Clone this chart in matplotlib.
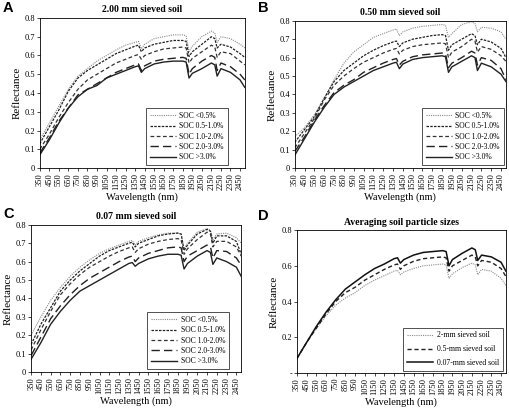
import matplotlib
matplotlib.use("Agg")
import matplotlib.pyplot as plt

plt.rcParams['font.family'] = ['Liberation Serif', 'DejaVu Serif']

# wavelength nodes (nm)
wl = [350, 450, 550, 650, 750, 850, 950, 1050, 1150, 1250, 1350, 1385, 1415, 1450,
      1550, 1650, 1750, 1850, 1885, 1915, 1950, 2050, 2150, 2185, 2210, 2250, 2350,
      2450, 2500]

soc_labels = ["SOC <0.5%", "SOC 0.5-1.0%", "SOC 1.0-2.0%", "SOC 2.0-3.0%", "SOC >3.0%"]
size_labels = ["2-mm sieved soil", "0.5-mm sieved soil", "0.07-mm sieved soil"]

# A: 2.00 mm
a1 = [0.15, 0.24, 0.33, 0.42, 0.49, 0.53, 0.57, 0.60, 0.63, 0.655, 0.67, 0.675, 0.635, 0.66, 0.69, 0.70, 0.71, 0.71, 0.705, 0.62, 0.65, 0.70, 0.73, 0.72, 0.67, 0.70, 0.69, 0.66, 0.64]
a2 = [0.13, 0.22, 0.31, 0.41, 0.48, 0.52, 0.55, 0.58, 0.61, 0.63, 0.65, 0.655, 0.62, 0.64, 0.66, 0.67, 0.68, 0.68, 0.675, 0.595, 0.62, 0.66, 0.70, 0.69, 0.64, 0.66, 0.645, 0.61, 0.59]
a3 = [0.10, 0.18, 0.27, 0.35, 0.42, 0.47, 0.50, 0.53, 0.56, 0.58, 0.60, 0.605, 0.58, 0.60, 0.62, 0.635, 0.64, 0.645, 0.64, 0.56, 0.585, 0.62, 0.655, 0.645, 0.59, 0.62, 0.61, 0.57, 0.55]
a4 = [0.08, 0.16, 0.25, 0.32, 0.39, 0.42, 0.45, 0.48, 0.51, 0.53, 0.55, 0.555, 0.52, 0.545, 0.57, 0.58, 0.585, 0.59, 0.585, 0.50, 0.53, 0.57, 0.60, 0.59, 0.52, 0.56, 0.54, 0.50, 0.47]
a5 = [0.07, 0.15, 0.24, 0.32, 0.38, 0.42, 0.44, 0.48, 0.50, 0.52, 0.54, 0.545, 0.51, 0.53, 0.555, 0.565, 0.57, 0.57, 0.565, 0.48, 0.505, 0.53, 0.56, 0.55, 0.49, 0.53, 0.51, 0.47, 0.43]

# B: 0.50 mm
b1 = [0.17, 0.22, 0.29, 0.38, 0.48, 0.57, 0.63, 0.67, 0.71, 0.73, 0.75, 0.755, 0.72, 0.74, 0.76, 0.77, 0.775, 0.78, 0.775, 0.71, 0.73, 0.78, 0.795, 0.785, 0.74, 0.765, 0.76, 0.74, 0.70]
b2 = [0.14, 0.21, 0.28, 0.38, 0.47, 0.53, 0.57, 0.61, 0.64, 0.665, 0.685, 0.69, 0.66, 0.68, 0.70, 0.71, 0.72, 0.725, 0.72, 0.64, 0.67, 0.70, 0.73, 0.72, 0.67, 0.70, 0.685, 0.65, 0.60]
b3 = [0.11, 0.19, 0.27, 0.37, 0.45, 0.50, 0.54, 0.575, 0.60, 0.625, 0.645, 0.65, 0.62, 0.64, 0.66, 0.67, 0.675, 0.68, 0.675, 0.60, 0.63, 0.66, 0.70, 0.69, 0.63, 0.66, 0.645, 0.61, 0.58]
b4 = [0.09, 0.17, 0.26, 0.34, 0.41, 0.45, 0.48, 0.52, 0.545, 0.57, 0.59, 0.595, 0.56, 0.58, 0.605, 0.615, 0.62, 0.625, 0.62, 0.545, 0.57, 0.60, 0.635, 0.625, 0.56, 0.60, 0.585, 0.54, 0.48]
b5 = [0.07, 0.16, 0.25, 0.33, 0.40, 0.44, 0.47, 0.50, 0.53, 0.55, 0.57, 0.575, 0.54, 0.565, 0.59, 0.60, 0.605, 0.61, 0.605, 0.52, 0.55, 0.58, 0.61, 0.60, 0.53, 0.57, 0.55, 0.51, 0.47]

# C: 0.07 mm
c1 = [0.20, 0.30, 0.39, 0.46, 0.52, 0.57, 0.61, 0.645, 0.67, 0.69, 0.71, 0.715, 0.69, 0.71, 0.73, 0.745, 0.755, 0.755, 0.75, 0.67, 0.70, 0.76, 0.78, 0.77, 0.72, 0.75, 0.755, 0.73, 0.70]
c2 = [0.15, 0.26, 0.35, 0.44, 0.50, 0.55, 0.59, 0.63, 0.66, 0.68, 0.70, 0.705, 0.68, 0.70, 0.72, 0.74, 0.75, 0.755, 0.75, 0.66, 0.69, 0.75, 0.775, 0.765, 0.70, 0.74, 0.74, 0.71, 0.64]
c3 = [0.12, 0.23, 0.33, 0.42, 0.48, 0.53, 0.57, 0.60, 0.63, 0.655, 0.675, 0.68, 0.65, 0.67, 0.695, 0.71, 0.72, 0.725, 0.72, 0.64, 0.67, 0.72, 0.76, 0.75, 0.68, 0.71, 0.71, 0.68, 0.63]
c4 = [0.09, 0.19, 0.29, 0.36, 0.42, 0.47, 0.51, 0.54, 0.57, 0.60, 0.625, 0.63, 0.60, 0.62, 0.645, 0.66, 0.675, 0.68, 0.675, 0.60, 0.63, 0.66, 0.69, 0.68, 0.62, 0.66, 0.655, 0.62, 0.58]
c5 = [0.07, 0.16, 0.26, 0.33, 0.39, 0.44, 0.47, 0.50, 0.53, 0.56, 0.59, 0.595, 0.575, 0.59, 0.615, 0.63, 0.64, 0.64, 0.635, 0.56, 0.59, 0.63, 0.66, 0.65, 0.585, 0.62, 0.60, 0.57, 0.52]

# D: averages
d1 = [0.08, 0.17, 0.25, 0.32, 0.38, 0.42, 0.45, 0.49, 0.52, 0.545, 0.57, 0.575, 0.55, 0.565, 0.585, 0.60, 0.605, 0.61, 0.605, 0.53, 0.555, 0.59, 0.615, 0.605, 0.55, 0.58, 0.57, 0.53, 0.49]
d2 = [0.08, 0.17, 0.25, 0.33, 0.40, 0.45, 0.48, 0.52, 0.55, 0.58, 0.605, 0.61, 0.58, 0.60, 0.625, 0.64, 0.645, 0.65, 0.645, 0.57, 0.60, 0.63, 0.66, 0.65, 0.60, 0.63, 0.62, 0.585, 0.54]
d3 = [0.08, 0.17, 0.26, 0.34, 0.41, 0.47, 0.51, 0.55, 0.585, 0.61, 0.64, 0.645, 0.615, 0.635, 0.66, 0.675, 0.68, 0.685, 0.68, 0.60, 0.635, 0.67, 0.70, 0.69, 0.63, 0.66, 0.65, 0.62, 0.57]

xticks = list(range(350, 2451, 100))

soc_styles = [
    dict(ls=(0, (1, 1)), color='#8a8a8a', lw=0.8),
    dict(ls=(0, (2, 1)), color='#222222', lw=0.9),
    dict(ls=(0, (3, 2)), color='#333333', lw=0.9),
    dict(ls=(0, (6, 3)), color='#222222', lw=1.0),
    dict(ls='-', color='#222222', lw=1.0),
]
size_styles = [
    dict(ls=(0, (1, 1)), color='#8a8a8a', lw=0.8),
    dict(ls=(0, (3, 2)), color='#222222', lw=1.0),
    dict(ls='-', color='#111111', lw=1.1),
]

fig = plt.figure(figsize=(5.1, 4.08), dpi=100)


def panel(rect, letter, letter_xy, title, series, labels, styles, yticks, yticklabels,
          leg_anchor, leg_space):
    ax = fig.add_axes(rect)
    for y, lab, st in zip(series, labels, styles):
        ax.plot(wl, y, label=lab, **st)
    ax.set_xlim(350, 2500)
    ax.set_ylim(0, 0.8)
    ax.set_xticks(xticks)
    ax.set_xticklabels([str(v) for v in xticks], rotation=90, fontsize=6)
    ax.set_yticks(yticks)
    ax.set_yticklabels(yticklabels, fontsize=6)
    ax.tick_params(length=2, width=0.5, pad=1.5)
    for s in ax.spines.values():
        s.set_linewidth(0.6)
    ax.set_xlabel("Wavelength (nm)", fontsize=7.5, labelpad=2)
    ax.set_ylabel("Reflectance", fontsize=8, labelpad=2)
    ax.set_title(title, fontsize=7, fontweight='bold', pad=4)
    leg = ax.legend(loc='lower right', bbox_to_anchor=leg_anchor, fontsize=5.5,
                    frameon=True, fancybox=False, edgecolor='black', handlelength=3.4,
                    borderpad=0.5, labelspacing=leg_space, handletextpad=0.5,
                    borderaxespad=0)
    leg.get_frame().set_linewidth(0.6)
    fig.text(letter_xy[0], letter_xy[1], letter, fontsize=10.5, fontweight='bold',
             family=['Liberation Sans', 'DejaVu Sans'], va='top', ha='left')
    return ax


yt = [0, 0.1, 0.2, 0.3, 0.4, 0.5, 0.6, 0.7, 0.8]
ytl = ["0", "0.1", "0.2", "0.3", "0.4", "0.5", "0.6", "0.7", "0.8"]

panel([0.078, 0.588, 0.402, 0.368], "A", (0.006, 0.997), "2.00 mm sieved soil",
      [a1, a2, a3, a4, a5], soc_labels, soc_styles, yt, ytl, (0.917, 0.02), 0.3)
panel([0.578, 0.588, 0.414, 0.361], "B", (0.506, 0.997), "0.50 mm sieved soil",
      [b1, b2, b3, b4, b5], soc_labels, soc_styles, yt, ytl, (0.99, 0.02), 0.3)
panel([0.061, 0.088, 0.412, 0.361], "C", (0.006, 0.492), "0.07 mm sieved soil",
      [c1, c2, c3, c4, c5], soc_labels, soc_styles, yt, ytl, (0.943, 0.02), 0.3)
panel([0.582, 0.086, 0.410, 0.350], "D", (0.506, 0.488), "Averaging soil particle sizes",
      [d1, d2, d3], size_labels, size_styles,
      [0, 0.2, 0.4, 0.6, 0.8], ["-", "0.2", "0.4", "0.6", "0.8"], (0.986, 0.015), 0.75)

fig.savefig("out.png", dpi=100)
